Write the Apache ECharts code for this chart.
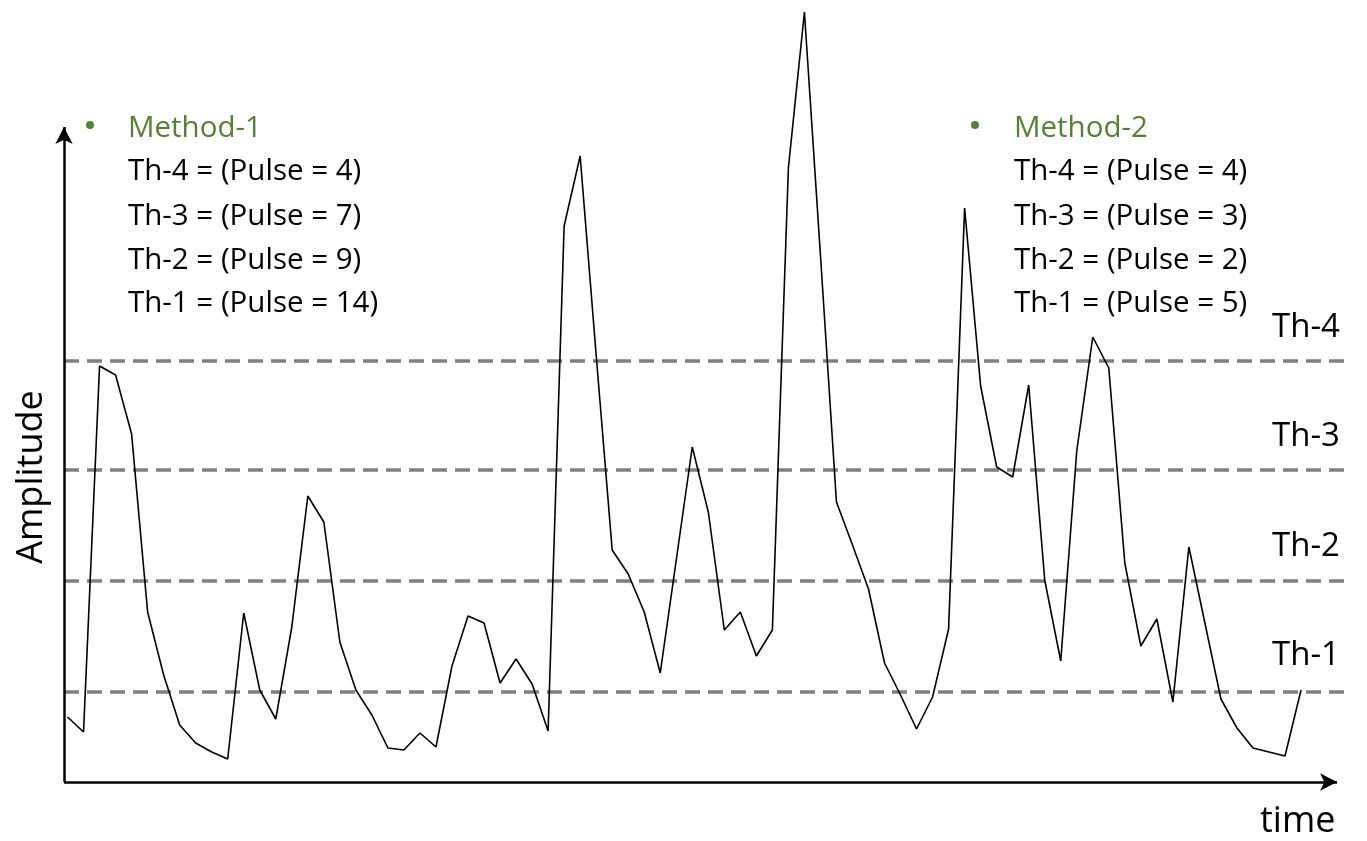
<!DOCTYPE html>
<html>
<head>
<meta charset="utf-8">
<title>Amplitude vs time</title>
<script src="https://cdn.jsdelivr.net/npm/echarts@6/dist/echarts.min.js"></script>
<style>
html, body { margin: 0; padding: 0; background: #fff; }
#chart { width: 1367px; height: 841px; }
</style>
</head>
<body>
<div id="chart"></div>
<script>
// signal samples (amplitude, arbitrary units)
var amplitude = [
  6.5, 5.0, 41.6, 40.7, 34.8, 17.0, 10.7, 5.7, 3.9, 3.0,
  2.3, 16.9, 9.2, 6.3, 15.5, 28.6, 26.0, 14.0, 9.2, 6.7,
  3.4, 3.2, 4.9, 3.5, 11.6, 16.6, 15.9, 9.9, 12.3, 9.8,
  5.1, 55.6, 62.6, 42.7, 23.2, 20.8, 17.0, 10.9, 22.2, 33.5,
  27.0, 15.2, 17.0, 12.6, 15.2, 61.4, 77.0, 52.7, 28.0, 23.7,
  19.3, 11.9, 8.7, 5.3, 8.5, 15.3, 57.4, 39.6, 31.5, 30.5,
  39.7, 20.2, 12.1, 33.1, 44.5, 41.4, 21.9, 13.6, 16.3, 8.0,
  23.5, 15.9, 8.3, 5.4, 3.4, 3.0, 2.6, 9.2
];
var time = amplitude.map(function (v, i) { return i; });

var thresholdNames = ['Th-1', 'Th-2', 'Th-3', 'Th-4'];
var thresholdValues = [9.0, 20.1, 31.2, 42.15];

var method1Title = 'Method-1';
var method1Lines = ['Th-4 = (Pulse = 4)', 'Th-3 = (Pulse = 7)', 'Th-2 = (Pulse = 9)', 'Th-1 = (Pulse = 14)'];
var method2Title = 'Method-2';
var method2Lines = ['Th-4 = (Pulse = 4)', 'Th-3 = (Pulse = 3)', 'Th-2 = (Pulse = 2)', 'Th-1 = (Pulse = 5)'];

var xMin = -0.22, xMax = 79.87;
var yMin = 0, yMax = 78.2;
var xArrowEnd = 79.25, yArrowEnd = 65.5;

var FONT = '"Open Sans", "DejaVu Sans", sans-serif';
var GREEN = '#548235';

var seriesData = time.map(function (t, i) { return [t, amplitude[i]]; });

var thresholdLines = thresholdValues.map(function (v) {
  return { yAxis: v };
});

function textEl(str, x, y, size, color, align) {
  return {
    type: 'text',
    x: x,
    y: y,
    silent: true,
    style: {
      text: str,
      font: size + 'px ' + FONT,
      fill: color || '#000',
      align: align || 'left',
      verticalAlign: 'middle'
    }
  };
}

var graphics = [];
// method blocks
[[method1Title, method1Lines, 90, 128], [method2Title, method2Lines, 975, 1014]].forEach(function (m) {
  graphics.push({
    type: 'circle', silent: true,
    shape: { cx: m[2], cy: 125, r: 4 },
    style: { fill: GREEN }
  });
  graphics.push(textEl(m[0], m[3], 128.3, 29.5, GREEN));
  m[1].forEach(function (s, k) {
    graphics.push(textEl(s, m[3], [171.3, 216.3, 260.3, 303.3][k], 29.5, '#000'));
  });
});
// threshold labels on the right
var labelY = [656, 547, 437, 328];
thresholdNames.forEach(function (n, k) {
  graphics.push(textEl(n, 1272, labelY[k], 33, '#000'));
});
graphics.push(textEl('time', 1260, 822, 36, '#000'));
graphics.push({
  type: 'text', x: 32, y: 477, rotation: Math.PI / 2, silent: true,
  style: { text: 'Amplitude', font: '36px ' + FONT, fill: '#000', align: 'center', verticalAlign: 'middle' }
});

var option = {
  animation: false,
  backgroundColor: '#fff',
  grid: { left: 64, right: 20, top: 0, bottom: 59 },
  xAxis: {
    type: 'value', min: xMin, max: xMax,
    axisLine: { show: false }, axisTick: { show: false },
    axisLabel: { show: false }, splitLine: { show: false }
  },
  yAxis: {
    type: 'value', min: yMin, max: yMax,
    axisLine: { show: false }, axisTick: { show: false },
    axisLabel: { show: false }, splitLine: { show: false }
  },
  series: [
    {
      name: 'threshold',
      type: 'line',
      data: [],
      markLine: {
        silent: true,
        symbol: ['none', 'none'],
        label: { show: false },
        lineStyle: { color: '#7f7f7f', width: 3.5, type: [15, 8] },
        emphasis: { disabled: true },
        data: thresholdLines
      }
    },
    {
      name: 'axes',
      type: 'line',
      data: [],
      markLine: {
        silent: true,
        symbol: ['none', 'arrow'],
        symbolSize: [13, 17],
        label: { show: false },
        lineStyle: { color: '#000', width: 2.5, type: 'solid' },
        emphasis: { disabled: true },
        data: [
          [{ coord: [xMin, 0] }, { coord: [xArrowEnd, 0] }],
          [{ coord: [xMin, 0] }, { coord: [xMin, yArrowEnd] }]
        ]
      }
    },
    {
      name: 'signal',
      type: 'line',
      data: seriesData,
      showSymbol: false,
      symbol: 'none',
      lineStyle: { color: '#000', width: 1.6 },
      z: 5
    }
  ],
  graphic: graphics
};

var myChart = echarts.init(document.getElementById('chart'));
myChart.setOption(option);
window.addEventListener('resize', function () {
  myChart.resize();
});
</script>
</body>
</html>
